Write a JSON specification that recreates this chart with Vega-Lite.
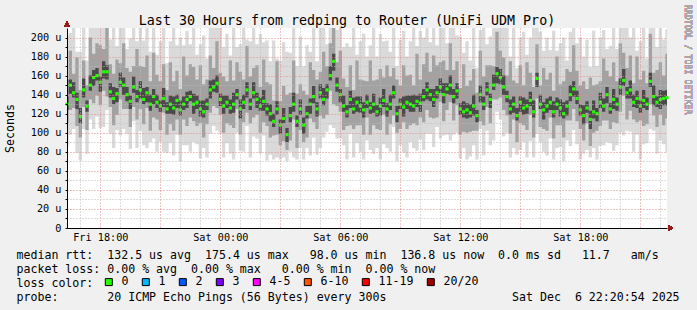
{
  "$schema": "https://vega.github.io/schema/vega-lite/v6.json",
  "width": 600,
  "height": 200,
  "autosize": "none",
  "padding": {"left": 67, "top": 28, "right": 30, "bottom": 82},
  "background": "#f0f0f0",
  "config": {"view": {"fill": "#ffffff", "stroke": null}, "font": "DejaVu Sans Mono"},
  "title": {"text": "Last 30 Hours from redping to Router (UniFi UDM Pro)", "frame": "group", "anchor": "middle", "dx": -20, "offset": -23, "font": "DejaVu Sans Mono", "fontSize": 13.3, "fontWeight": "normal", "color": "#000000"},
  "data": {
    "values": [
{"t":"2025-12-05T16:20","a":86,"b":110,"c":124,"m":130,"d":138,"e":156,"f":202},
{"t":"2025-12-05T16:30","a":98,"b":124,"c":141,"m":150,"d":156,"e":186,"f":205},
{"t":"2025-12-05T16:40","a":104,"b":126,"c":137,"m":142,"d":153,"e":162,"f":227},
{"t":"2025-12-05T16:50","a":79,"b":107,"c":125,"m":135,"d":142,"e":179,"f":185},
{"t":"2025-12-05T17:00","a":71,"b":95,"c":110,"m":117,"d":126,"e":145,"f":185},
{"t":"2025-12-05T17:10","a":104,"b":127,"c":137,"m":145,"d":157,"e":176,"f":225},
{"t":"2025-12-05T17:20","a":78,"b":103,"c":122,"m":128,"d":134,"e":150,"f":176},
{"t":"2025-12-05T17:30","a":114,"b":135,"c":144,"m":150,"d":160,"e":200,"f":216},
{"t":"2025-12-05T17:40","a":104,"b":131,"c":149,"m":158,"d":166,"e":183,"f":246},
{"t":"2025-12-05T17:50","a":117,"b":139,"c":155,"m":160,"d":168,"e":194,"f":218},
{"t":"2025-12-05T18:00","a":105,"b":129,"c":143,"m":153,"d":159,"e":192,"f":229},
{"t":"2025-12-05T18:10","a":106,"b":144,"c":157,"m":164,"d":175,"e":188,"f":226},
{"t":"2025-12-05T18:20","a":124,"b":138,"c":156,"m":164,"d":171,"e":210,"f":236},
{"t":"2025-12-05T18:30","a":99,"b":127,"c":137,"m":143,"d":152,"e":172,"f":198},
{"t":"2025-12-05T18:40","a":84,"b":108,"c":130,"m":136,"d":148,"e":162,"f":221},
{"t":"2025-12-05T18:50","a":103,"b":119,"c":132,"m":141,"d":147,"e":177,"f":191},
{"t":"2025-12-05T19:00","a":97,"b":135,"c":148,"m":153,"d":163,"e":173,"f":221},
{"t":"2025-12-05T19:10","a":104,"b":125,"c":140,"m":150,"d":158,"e":194,"f":230},
{"t":"2025-12-05T19:20","a":99,"b":125,"c":133,"m":140,"d":148,"e":168,"f":188},
{"t":"2025-12-05T19:30","a":83,"b":106,"c":125,"m":133,"d":139,"e":164,"f":199},
{"t":"2025-12-05T19:40","a":112,"b":127,"c":142,"m":148,"d":159,"e":170,"f":236},
{"t":"2025-12-05T19:50","a":84,"b":114,"c":132,"m":138,"d":145,"e":188,"f":196},
{"t":"2025-12-05T20:00","a":102,"b":125,"c":136,"m":145,"d":154,"e":170,"f":221},
{"t":"2025-12-05T20:10","a":87,"b":109,"c":130,"m":135,"d":147,"e":169,"f":197},
{"t":"2025-12-05T20:20","a":84,"b":126,"c":132,"m":142,"d":148,"e":181,"f":214},
{"t":"2025-12-05T20:30","a":90,"b":102,"c":123,"m":130,"d":140,"e":154,"f":185},
{"t":"2025-12-05T20:40","a":94,"b":116,"c":130,"m":138,"d":146,"e":184,"f":223},
{"t":"2025-12-05T20:50","a":80,"b":114,"c":126,"m":132,"d":140,"e":161,"f":182},
{"t":"2025-12-05T21:00","a":90,"b":103,"c":122,"m":128,"d":134,"e":154,"f":196},
{"t":"2025-12-05T21:10","a":80,"b":121,"c":127,"m":136,"d":147,"e":172,"f":216},
{"t":"2025-12-05T21:20","a":79,"b":98,"c":120,"m":125,"d":132,"e":145,"f":173},
{"t":"2025-12-05T21:30","a":89,"b":109,"c":120,"m":130,"d":139,"e":174,"f":196},
{"t":"2025-12-05T21:40","a":76,"b":102,"c":119,"m":126,"d":138,"e":154,"f":214},
{"t":"2025-12-05T21:50","a":98,"b":114,"c":126,"m":134,"d":140,"e":165,"f":192},
{"t":"2025-12-05T22:00","a":70,"b":98,"c":118,"m":124,"d":134,"e":146,"f":200},
{"t":"2025-12-05T22:10","a":87,"b":114,"c":124,"m":130,"d":138,"e":180,"f":192},
{"t":"2025-12-05T22:20","a":87,"b":107,"c":126,"m":135,"d":143,"e":160,"f":207},
{"t":"2025-12-05T22:30","a":80,"b":116,"c":133,"m":138,"d":144,"e":172,"f":193},
{"t":"2025-12-05T22:40","a":90,"b":112,"c":120,"m":130,"d":141,"e":169,"f":215},
{"t":"2025-12-05T22:50","a":88,"b":107,"c":125,"m":132,"d":139,"e":156,"f":182},
{"t":"2025-12-05T23:00","a":73,"b":110,"c":117,"m":125,"d":134,"e":171,"f":193},
{"t":"2025-12-05T23:10","a":84,"b":95,"c":116,"m":122,"d":134,"e":151,"f":202},
{"t":"2025-12-05T23:20","a":74,"b":109,"c":124,"m":130,"d":136,"e":156,"f":178},
{"t":"2025-12-05T23:30","a":99,"b":121,"c":136,"m":145,"d":155,"e":181,"f":211},
{"t":"2025-12-05T23:40","a":107,"b":128,"c":143,"m":148,"d":156,"e":168,"f":236},
{"t":"2025-12-05T23:50","a":102,"b":126,"c":142,"m":152,"d":160,"e":196,"f":210},
{"t":"2025-12-06T00:00","a":99,"b":119,"c":128,"m":135,"d":141,"e":163,"f":211},
{"t":"2025-12-06T00:10","a":74,"b":100,"c":120,"m":128,"d":139,"e":159,"f":190},
{"t":"2025-12-06T00:20","a":89,"b":110,"c":126,"m":132,"d":139,"e":154,"f":204},
{"t":"2025-12-06T00:30","a":78,"b":108,"c":120,"m":126,"d":135,"e":176,"f":181},
{"t":"2025-12-06T00:40","a":72,"b":105,"c":121,"m":130,"d":142,"e":155,"f":215},
{"t":"2025-12-06T00:50","a":100,"b":125,"c":135,"m":140,"d":146,"e":174,"f":190},
{"t":"2025-12-06T01:00","a":81,"b":98,"c":115,"m":125,"d":135,"e":164,"f":193},
{"t":"2025-12-06T01:10","a":80,"b":111,"c":125,"m":132,"d":140,"e":156,"f":212},
{"t":"2025-12-06T01:20","a":107,"b":121,"c":137,"m":145,"d":153,"e":191,"f":198},
{"t":"2025-12-06T01:30","a":74,"b":110,"c":124,"m":130,"d":136,"e":159,"f":196},
{"t":"2025-12-06T01:40","a":96,"b":116,"c":136,"m":142,"d":153,"e":168,"f":230},
{"t":"2025-12-06T01:50","a":94,"b":119,"c":126,"m":135,"d":142,"e":171,"f":193},
{"t":"2025-12-06T02:00","a":78,"b":100,"c":123,"m":128,"d":137,"e":148,"f":204},
{"t":"2025-12-06T02:10","a":97,"b":111,"c":123,"m":133,"d":145,"e":177,"f":195},
{"t":"2025-12-06T02:20","a":71,"b":107,"c":118,"m":125,"d":131,"e":153,"f":197},
{"t":"2025-12-06T02:30","a":77,"b":95,"c":112,"m":120,"d":130,"e":151,"f":175},
{"t":"2025-12-06T02:40","a":72,"b":97,"c":106,"m":112,"d":120,"e":134,"f":197},
{"t":"2025-12-06T02:50","a":74,"b":98,"c":119,"m":125,"d":133,"e":175,"f":178},
{"t":"2025-12-06T03:00","a":72,"b":87,"c":99,"m":108,"d":114,"e":133,"f":176},
{"t":"2025-12-06T03:10","a":74,"b":91,"c":110,"m":115,"d":126,"e":149,"f":195},
{"t":"2025-12-06T03:20","a":70,"b":82,"c":90,"m":98,"d":105,"e":140,"f":185},
{"t":"2025-12-06T03:30","a":80,"b":92,"c":111,"m":118,"d":127,"e":142,"f":184},
{"t":"2025-12-06T03:40","a":74,"b":114,"c":122,"m":130,"d":142,"e":176,"f":218},
{"t":"2025-12-06T03:50","a":72,"b":84,"c":106,"m":112,"d":118,"e":141,"f":170},
{"t":"2025-12-06T04:00","a":84,"b":103,"c":119,"m":125,"d":135,"e":151,"f":201},
{"t":"2025-12-06T04:10","a":72,"b":90,"c":99,"m":108,"d":116,"e":144,"f":170},
{"t":"2025-12-06T04:20","a":84,"b":95,"c":115,"m":120,"d":128,"e":140,"f":192},
{"t":"2025-12-06T04:30","a":76,"b":115,"c":120,"m":130,"d":136,"e":174,"f":185},
{"t":"2025-12-06T04:40","a":95,"b":111,"c":131,"m":138,"d":149,"e":166,"f":223},
{"t":"2025-12-06T04:50","a":77,"b":104,"c":117,"m":125,"d":132,"e":156,"f":175},
{"t":"2025-12-06T05:00","a":84,"b":118,"c":136,"m":142,"d":151,"e":164,"f":210},
{"t":"2025-12-06T05:10","a":95,"b":115,"c":129,"m":135,"d":147,"e":185,"f":215},
{"t":"2025-12-06T05:20","a":101,"b":119,"c":136,"m":145,"d":151,"e":170,"f":193},
{"t":"2025-12-06T05:30","a":108,"b":144,"c":155,"m":160,"d":170,"e":194,"f":226},
{"t":"2025-12-06T05:40","a":105,"b":130,"c":165,"m":175,"d":183,"e":214,"f":263},
{"t":"2025-12-06T05:50","a":94,"b":128,"c":143,"m":150,"d":158,"e":174,"f":208},
{"t":"2025-12-06T06:00","a":94,"b":122,"c":132,"m":140,"d":146,"e":186,"f":216},
{"t":"2025-12-06T06:10","a":87,"b":103,"c":122,"m":128,"d":139,"e":157,"f":190},
{"t":"2025-12-06T06:20","a":72,"b":107,"c":116,"m":122,"d":129,"e":148,"f":194},
{"t":"2025-12-06T06:30","a":99,"b":108,"c":126,"m":135,"d":144,"e":171,"f":190},
{"t":"2025-12-06T06:40","a":74,"b":104,"c":120,"m":125,"d":137,"e":145,"f":210},
{"t":"2025-12-06T06:50","a":89,"b":108,"c":122,"m":132,"d":138,"e":176,"f":182},
{"t":"2025-12-06T07:00","a":80,"b":108,"c":121,"m":128,"d":138,"e":156,"f":196},
{"t":"2025-12-06T07:10","a":72,"b":98,"c":116,"m":124,"d":132,"e":155,"f":204},
{"t":"2025-12-06T07:20","a":92,"b":116,"c":126,"m":132,"d":140,"e":154,"f":180},
{"t":"2025-12-06T07:30","a":82,"b":98,"c":120,"m":126,"d":132,"e":176,"f":192},
{"t":"2025-12-06T07:40","a":78,"b":108,"c":121,"m":130,"d":141,"e":155,"f":218},
{"t":"2025-12-06T07:50","a":84,"b":104,"c":117,"m":122,"d":129,"e":156,"f":180},
{"t":"2025-12-06T08:00","a":72,"b":103,"c":118,"m":128,"d":137,"e":167,"f":204},
{"t":"2025-12-06T08:10","a":88,"b":119,"c":127,"m":134,"d":146,"e":158,"f":196},
{"t":"2025-12-06T08:20","a":84,"b":98,"c":117,"m":125,"d":131,"e":171,"f":197},
{"t":"2025-12-06T08:30","a":80,"b":109,"c":124,"m":130,"d":140,"e":159,"f":185},
{"t":"2025-12-06T08:40","a":106,"b":118,"c":136,"m":142,"d":150,"e":168,"f":227},
{"t":"2025-12-06T08:50","a":70,"b":100,"c":111,"m":120,"d":128,"e":156,"f":170},
{"t":"2025-12-06T09:00","a":87,"b":104,"c":125,"m":130,"d":136,"e":150,"f":198},
{"t":"2025-12-06T09:10","a":79,"b":111,"c":117,"m":127,"d":138,"e":171,"f":207},
{"t":"2025-12-06T09:20","a":74,"b":104,"c":125,"m":132,"d":139,"e":160,"f":180},
{"t":"2025-12-06T09:30","a":90,"b":108,"c":122,"m":130,"d":139,"e":161,"f":196},
{"t":"2025-12-06T09:40","a":84,"b":110,"c":122,"m":128,"d":140,"e":150,"f":216},
{"t":"2025-12-06T09:50","a":81,"b":108,"c":127,"m":133,"d":139,"e":183,"f":191},
{"t":"2025-12-06T10:00","a":93,"b":116,"c":122,"m":131,"d":141,"e":156,"f":207},
{"t":"2025-12-06T10:10","a":82,"b":111,"c":133,"m":138,"d":146,"e":172,"f":200},
{"t":"2025-12-06T10:20","a":99,"b":124,"c":135,"m":145,"d":153,"e":184,"f":217},
{"t":"2025-12-06T10:30","a":99,"b":116,"c":133,"m":140,"d":146,"e":164,"f":195},
{"t":"2025-12-06T10:40","a":85,"b":115,"c":127,"m":135,"d":146,"e":181,"f":220},
{"t":"2025-12-06T10:50","a":106,"b":116,"c":136,"m":142,"d":149,"e":171,"f":192},
{"t":"2025-12-06T11:00","a":94,"b":132,"c":142,"m":148,"d":157,"e":174,"f":216},
{"t":"2025-12-06T11:10","a":97,"b":112,"c":131,"m":140,"d":152,"e":176,"f":220},
{"t":"2025-12-06T11:20","a":98,"b":124,"c":141,"m":146,"d":152,"e":166,"f":194},
{"t":"2025-12-06T11:30","a":92,"b":132,"c":140,"m":150,"d":160,"e":194,"f":216},
{"t":"2025-12-06T11:40","a":98,"b":113,"c":131,"m":138,"d":146,"e":166,"f":226},
{"t":"2025-12-06T11:50","a":100,"b":129,"c":136,"m":144,"d":152,"e":175,"f":202},
{"t":"2025-12-06T12:00","a":73,"b":98,"c":119,"m":125,"d":131,"e":147,"f":201},
{"t":"2025-12-06T12:10","a":84,"b":101,"c":116,"m":122,"d":133,"e":172,"f":184},
{"t":"2025-12-06T12:20","a":72,"b":100,"c":115,"m":124,"d":131,"e":149,"f":196},
{"t":"2025-12-06T12:30","a":75,"b":101,"c":116,"m":121,"d":130,"e":155,"f":176},
{"t":"2025-12-06T12:40","a":87,"b":102,"c":118,"m":128,"d":140,"e":167,"f":213},
{"t":"2025-12-06T12:50","a":72,"b":102,"c":111,"m":118,"d":124,"e":142,"f":168},
{"t":"2025-12-06T13:00","a":104,"b":112,"c":132,"m":140,"d":150,"e":186,"f":208},
{"t":"2025-12-06T13:10","a":76,"b":108,"c":124,"m":130,"d":138,"e":159,"f":210},
{"t":"2025-12-06T13:20","a":102,"b":127,"c":139,"m":145,"d":153,"e":171,"f":193},
{"t":"2025-12-06T13:30","a":87,"b":110,"c":126,"m":135,"d":141,"e":171,"f":201},
{"t":"2025-12-06T13:40","a":92,"b":135,"c":145,"m":150,"d":161,"e":170,"f":238},
{"t":"2025-12-06T13:50","a":122,"b":135,"c":152,"m":162,"d":169,"e":206,"f":220},
{"t":"2025-12-06T14:00","a":114,"b":137,"c":151,"m":158,"d":167,"e":186,"f":234},
{"t":"2025-12-06T14:10","a":96,"b":124,"c":140,"m":148,"d":160,"e":179,"f":210},
{"t":"2025-12-06T14:20","a":100,"b":118,"c":132,"m":138,"d":144,"e":160,"f":210},
{"t":"2025-12-06T14:30","a":74,"b":99,"c":119,"m":125,"d":135,"e":175,"f":180},
{"t":"2025-12-06T14:40","a":84,"b":114,"c":121,"m":130,"d":138,"e":155,"f":215},
{"t":"2025-12-06T14:50","a":77,"b":90,"c":113,"m":118,"d":126,"e":152,"f":168},
{"t":"2025-12-06T15:00","a":82,"b":110,"c":122,"m":132,"d":138,"e":171,"f":200},
{"t":"2025-12-06T15:10","a":90,"b":108,"c":119,"m":126,"d":137,"e":150,"f":206},
{"t":"2025-12-06T15:20","a":74,"b":103,"c":120,"m":128,"d":135,"e":174,"f":182},
{"t":"2025-12-06T15:30","a":91,"b":119,"c":128,"m":134,"d":143,"e":163,"f":200},
{"t":"2025-12-06T15:40","a":74,"b":95,"c":116,"m":122,"d":134,"e":148,"f":210},
{"t":"2025-12-06T15:50","a":99,"b":136,"c":148,"m":157,"d":163,"e":193,"f":215},
{"t":"2025-12-06T16:00","a":90,"b":106,"c":125,"m":130,"d":140,"e":150,"f":206},
{"t":"2025-12-06T16:10","a":80,"b":104,"c":114,"m":124,"d":132,"e":168,"f":186},
{"t":"2025-12-06T16:20","a":76,"b":102,"c":121,"m":128,"d":136,"e":156,"f":200},
{"t":"2025-12-06T16:30","a":94,"b":116,"c":124,"m":132,"d":138,"e":163,"f":187},
{"t":"2025-12-06T16:40","a":72,"b":94,"c":116,"m":122,"d":133,"e":144,"f":207},
{"t":"2025-12-06T16:50","a":84,"b":108,"c":124,"m":130,"d":137,"e":180,"f":186},
{"t":"2025-12-06T17:00","a":85,"b":108,"c":117,"m":126,"d":135,"e":151,"f":194},
{"t":"2025-12-06T17:10","a":70,"b":95,"c":115,"m":120,"d":132,"e":154,"f":200},
{"t":"2025-12-06T17:20","a":92,"b":113,"c":118,"m":128,"d":134,"e":167,"f":176},
{"t":"2025-12-06T17:30","a":86,"b":113,"c":133,"m":140,"d":150,"e":164,"f":206},
{"t":"2025-12-06T17:40","a":103,"b":125,"c":138,"m":146,"d":154,"e":192,"f":234},
{"t":"2025-12-06T17:50","a":88,"b":112,"c":130,"m":136,"d":144,"e":165,"f":194},
{"t":"2025-12-06T18:00","a":72,"b":104,"c":118,"m":124,"d":130,"e":150,"f":200},
{"t":"2025-12-06T18:10","a":78,"b":92,"c":109,"m":118,"d":129,"e":154,"f":180},
{"t":"2025-12-06T18:20","a":82,"b":110,"c":121,"m":126,"d":133,"e":146,"f":198},
{"t":"2025-12-06T18:30","a":74,"b":86,"c":104,"m":114,"d":123,"e":158,"f":169},
{"t":"2025-12-06T18:40","a":84,"b":100,"c":115,"m":122,"d":134,"e":150,"f":207},
{"t":"2025-12-06T18:50","a":72,"b":102,"c":112,"m":120,"d":126,"e":151,"f":170},
{"t":"2025-12-06T19:00","a":86,"b":107,"c":126,"m":132,"d":142,"e":154,"f":200},
{"t":"2025-12-06T19:10","a":87,"b":113,"c":122,"m":128,"d":136,"e":178,"f":208},
{"t":"2025-12-06T19:20","a":90,"b":113,"c":131,"m":140,"d":148,"e":165,"f":188},
{"t":"2025-12-06T19:30","a":89,"b":104,"c":120,"m":125,"d":131,"e":159,"f":191},
{"t":"2025-12-06T19:40","a":81,"b":111,"c":125,"m":135,"d":146,"e":174,"f":223},
{"t":"2025-12-06T19:50","a":87,"b":110,"c":123,"m":130,"d":137,"e":154,"f":188},
{"t":"2025-12-06T20:00","a":100,"b":122,"c":140,"m":148,"d":157,"e":194,"f":224},
{"t":"2025-12-06T20:10","a":97,"b":139,"c":149,"m":155,"d":167,"e":184,"f":217},
{"t":"2025-12-06T20:20","a":102,"b":114,"c":136,"m":142,"d":148,"e":168,"f":214},
{"t":"2025-12-06T20:30","a":101,"b":123,"c":136,"m":145,"d":155,"e":181,"f":200},
{"t":"2025-12-06T20:40","a":80,"b":114,"c":127,"m":132,"d":140,"e":152,"f":217},
{"t":"2025-12-06T20:50","a":98,"b":111,"c":126,"m":136,"d":144,"e":180,"f":186},
{"t":"2025-12-06T21:00","a":72,"b":113,"c":121,"m":128,"d":134,"e":156,"f":196},
{"t":"2025-12-06T21:10","a":88,"b":107,"c":126,"m":134,"d":145,"e":165,"f":214},
{"t":"2025-12-06T21:20","a":89,"b":109,"c":124,"m":130,"d":137,"e":152,"f":178},
{"t":"2025-12-06T21:30","a":104,"b":130,"c":148,"m":154,"d":163,"e":204,"f":220},
{"t":"2025-12-06T21:40","a":102,"b":118,"c":129,"m":138,"d":150,"e":163,"f":226},
{"t":"2025-12-06T21:50","a":78,"b":106,"c":127,"m":132,"d":138,"e":166,"f":190},
{"t":"2025-12-06T22:00","a":92,"b":119,"c":125,"m":135,"d":145,"e":174,"f":211},
{"t":"2025-12-06T22:10","a":88,"b":108,"c":129,"m":136,"d":144,"e":160,"f":198},
{"t":"2025-12-06T22:20","a":79,"b":115,"c":129,"m":137,"d":145,"e":183,"f":209}
    ]
  },
  "layer": [
    {
      "mark": {"type": "area", "interpolate": "step", "color": "#dadada", "clip": true},
      "encoding": {
        "x": {
          "field": "t", "type": "temporal",
          "scale": {"domain": [{"year": 2025, "month": 12, "date": 5, "hours": 16, "minutes": 20}, {"year": 2025, "month": 12, "date": 6, "hours": 22, "minutes": 20}], "nice": false},
          "axis": {
            "title": [
              "median rtt:\u00a0\u00a0132.5 us avg\u00a0\u00a0175.4 us max\u00a0\u00a0\u00a098.0 us min\u00a0\u00a0136.8 us now\u00a0\u00a00.0 ms sd\u00a0\u00a0\u00a011.7\u00a0\u00a0\u00a0am/s",
              "packet loss: 0.00 % avg\u00a0\u00a00.00 % max\u00a0\u00a0\u00a00.00 % min\u00a0\u00a00.00 % now",
              "loss color:",
              "probe:\u00a0\u00a0\u00a0\u00a0\u00a0\u00a0\u00a020 ICMP Echo Pings (56 Bytes) every 300s\u00a0\u00a0\u00a0\u00a0\u00a0\u00a0\u00a0\u00a0\u00a0\u00a0\u00a0\u00a0\u00a0\u00a0\u00a0\u00a0\u00a0\u00a0Sat Dec\u00a0\u00a06 22:20:54 2025"
            ],
            "titleX": -51, "titleY": 30.3, "titleAlign": "left", "titleBaseline": "alphabetic", "titleLineHeight": 14,
            "titleFont": "DejaVu Sans Mono", "titleFontSize": 11.6, "titleFontWeight": "normal", "titleColor": "#000000",
            "tickCount": 30,
            "labelExpr": "hours(datum.value) % 6 == 0 ? timeFormat(datum.value, '%a %H:%M') : ''",
            "labelFont": "DejaVu Sans Mono", "labelFontSize": 10.2, "labelColor": "#000000", "labelPadding": 4, "labelFlush": false, "labelOverlap": false,
            "ticks": false,
            "grid": true,
            "gridColor": {"condition": {"test": "hours(datum.value) % 3 == 0", "value": "#e08a8a"}, "value": "#bdbdbd"},
            "gridDash": [1, 2], "gridWidth": 1,
            "domainColor": "#000000", "domainWidth": 1,
            "zindex": 1
          }
        },
        "y": {
          "field": "a", "type": "quantitative",
          "scale": {"domain": [0, 210], "nice": false, "zero": true},
          "axis": {
            "title": "Seconds", "titleFont": "DejaVu Sans Mono", "titleFontSize": 11.6, "titleFontWeight": "normal", "titleColor": "#000000",
            "titleX": -57, "titleY": 100, "titleAngle": -90, "titleAlign": "center", "titleBaseline": "middle",
            "values": [0, 10, 20, 30, 40, 50, 60, 70, 80, 90, 100, 110, 120, 130, 140, 150, 160, 170, 180, 190, 200],
            "tickCount": 30,
            "labelExpr": "datum.value == 0 ? '0\u00a0\u00a0' : (datum.value % 20 == 0 ? datum.value + ' u' : '')",
            "labelFont": "DejaVu Sans Mono",
            "labelFontSize": {"condition": {"test": "datum.value % 20 != 0", "value": 0}, "value": 10.2},
            "labelColor": "#000000", "labelPadding": 4, "labelOverlap": false, "labelFlush": false,
            "tickSize": 2, "tickColor": "#000000",
            "grid": true,
            "gridColor": {"condition": {"test": "datum.value % 20 == 0", "value": "#e08a8a"}, "value": "#bdbdbd"},
            "gridDash": [1, 2], "gridWidth": 1,
            "domainColor": "#000000", "domainWidth": 1,
            "zindex": 1
          }
        },
        "y2": {"field": "f"}
      }
    },
    {
      "mark": {"type": "area", "interpolate": "step", "color": "#a2a2a2", "clip": true},
      "encoding": {
        "x": {"field": "t", "type": "temporal"},
        "y": {"field": "b", "type": "quantitative"},
        "y2": {"field": "e"}
      }
    },
    {
      "mark": {"type": "area", "interpolate": "step", "color": "#4a4a4a", "clip": true},
      "encoding": {
        "x": {"field": "t", "type": "temporal"},
        "y": {"field": "c", "type": "quantitative"},
        "y2": {"field": "d"}
      }
    },
    {
      "mark": {"type": "point", "shape": "square", "filled": true, "size": 10, "opacity": 1},
      "encoding": {
        "x": {"field": "t", "type": "temporal"},
        "y": {"field": "m", "type": "quantitative"},
        "color": {
          "datum": "0", "type": "nominal",
          "scale": {"domain": ["0", "1", "2", "3", "4-5", "6-10", "11-19", "20/20"], "range": ["#26ff00", "#00b8ff", "#0059ff", "#7e00ff", "#ff00ff", "#ff5500", "#ff0000", "#a10000"]},
          "legend": {
            "orient": "none", "legendX": 36, "legendY": 248, "direction": "horizontal", "title": null,
            "symbolType": "square", "symbolSize": 49, "symbolStrokeColor": "#000000", "symbolStrokeWidth": 1, "symbolOpacity": 1,
            "labelFont": "DejaVu Sans Mono", "labelFontSize": 11.6, "labelColor": "#000000", "labelOffset": 7, "columnPadding": 11, "padding": 0
          }
        }
      }
    },
    {
      "mark": {"type": "point", "shape": "triangle-up", "filled": true, "size": 30, "color": "#9b1c1c"},
      "encoding": {
        "x": {"datum": {"year": 2025, "month": 12, "date": 5, "hours": 16, "minutes": 20}, "type": "temporal"},
        "y": {"datum": 214, "type": "quantitative"}
      }
    },
    {
      "mark": {"type": "point", "shape": "triangle-right", "filled": true, "size": 30, "color": "#9b1c1c"},
      "encoding": {
        "x": {"datum": {"year": 2025, "month": 12, "date": 6, "hours": 22, "minutes": 31}, "type": "temporal"},
        "y": {"datum": 0, "type": "quantitative"}
      }
    },
    {
      "mark": {"type": "text", "angle": 90, "align": "left", "baseline": "middle", "font": "DejaVu Sans Mono", "fontSize": 8.3, "color": "#a8a8a8"},
      "encoding": {
        "x": {"datum": {"year": 2025, "month": 12, "date": 6, "hours": 23, "minutes": 21}, "type": "temporal"},
        "y": {"datum": 234.5, "type": "quantitative"},
        "text": {"value": "RRDTOOL / TOBI OETIKER"}
      }
    }
  ]
}
